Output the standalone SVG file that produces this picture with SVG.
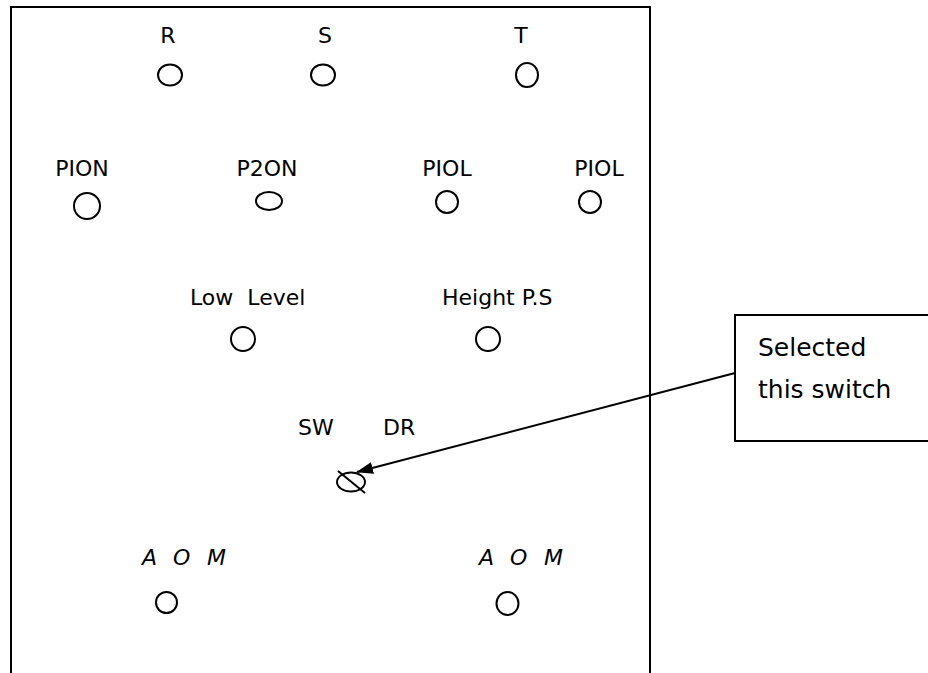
<svg xmlns="http://www.w3.org/2000/svg" width="928" height="673" viewBox="0 0 928 673">
  <defs>
    <style>
      text { font-family: "DejaVu Sans", "Liberation Sans", sans-serif; font-size: 22px; fill: #000; }
      .lbl { text-anchor: middle; }
      .call { font-size: 25px; }
      .aom { font-style: italic; }
      .pre { white-space: pre; }
      .sw { fill: none; stroke: #000; stroke-width: 2; }
      .frame { fill: none; stroke: #000; stroke-width: 2; }
      .conn { fill: none; stroke: #000; stroke-width: 2; }
    </style>
    <marker id="arrow" viewBox="0 0 17 12" refX="16" refY="6" markerWidth="8.5" markerHeight="6" markerUnits="strokeWidth" orient="auto">
      <path d="M0,0 L17,6 L0,12 z" fill="#000"/>
    </marker>
  </defs>
  <rect width="928" height="673" fill="#fff"/>

  <g id="panel">
    <path class="frame" d="M11,673 L11,7 L650,7 L650,673"/>
  </g>

  <g id="R">
    <text class="lbl" x="168" y="43">R</text>
    <ellipse class="sw" cx="170" cy="75" rx="12" ry="10.5"/>
  </g>
  <g id="S">
    <text class="lbl" x="325" y="43">S</text>
    <ellipse class="sw" cx="323" cy="75" rx="12" ry="10.5"/>
  </g>
  <g id="T">
    <text class="lbl" x="521" y="43">T</text>
    <ellipse class="sw" cx="527" cy="75" rx="11" ry="12"/>
  </g>

  <g id="PION">
    <text class="lbl" x="82" y="176">PION</text>
    <circle class="sw" cx="87" cy="206" r="13"/>
  </g>
  <g id="P2ON">
    <text class="lbl" x="267" y="176">P2ON</text>
    <ellipse class="sw" cx="269" cy="201" rx="13" ry="9"/>
  </g>
  <g id="PIOL1">
    <text class="lbl" x="447" y="176">PIOL</text>
    <circle class="sw" cx="447" cy="202" r="11"/>
  </g>
  <g id="PIOL2">
    <text class="lbl" x="599" y="176">PIOL</text>
    <circle class="sw" cx="590" cy="202" r="11"/>
  </g>

  <g id="LowLevel">
    <text class="pre" x="190" y="305">Low  Level</text>
    <circle class="sw" cx="243" cy="339" r="12"/>
  </g>
  <g id="HeightPS">
    <text x="442" y="305">Height P.S</text>
    <circle class="sw" cx="488" cy="339" r="12"/>
  </g>

  <g id="SWDR">
    <text x="298" y="435">SW</text>
    <text x="383" y="435">DR</text>
    <ellipse class="sw" cx="351" cy="482" rx="14" ry="9.5"/>
    <line class="sw" x1="338" y1="471" x2="365" y2="493"/>
  </g>

  <g id="AOM1">
    <text class="aom" x="142 173 207" y="565">AOM</text>
    <circle class="sw" cx="166.5" cy="602.5" r="10.5"/>
  </g>
  <g id="AOM2">
    <text class="aom" x="479 510 544" y="565">AOM</text>
    <ellipse class="sw" cx="507.5" cy="603.5" rx="11" ry="11.5"/>
  </g>

  <g id="callout">
    <rect class="frame" x="735" y="315" width="200" height="126"/>
    <text class="call" x="758" y="356">Selected</text>
    <text class="call" x="758" y="398">this switch</text>
  </g>

  <g id="connectors">
    <line class="conn" x1="735" y1="373" x2="357" y2="472" marker-end="url(#arrow)"/>
  </g>
</svg>
